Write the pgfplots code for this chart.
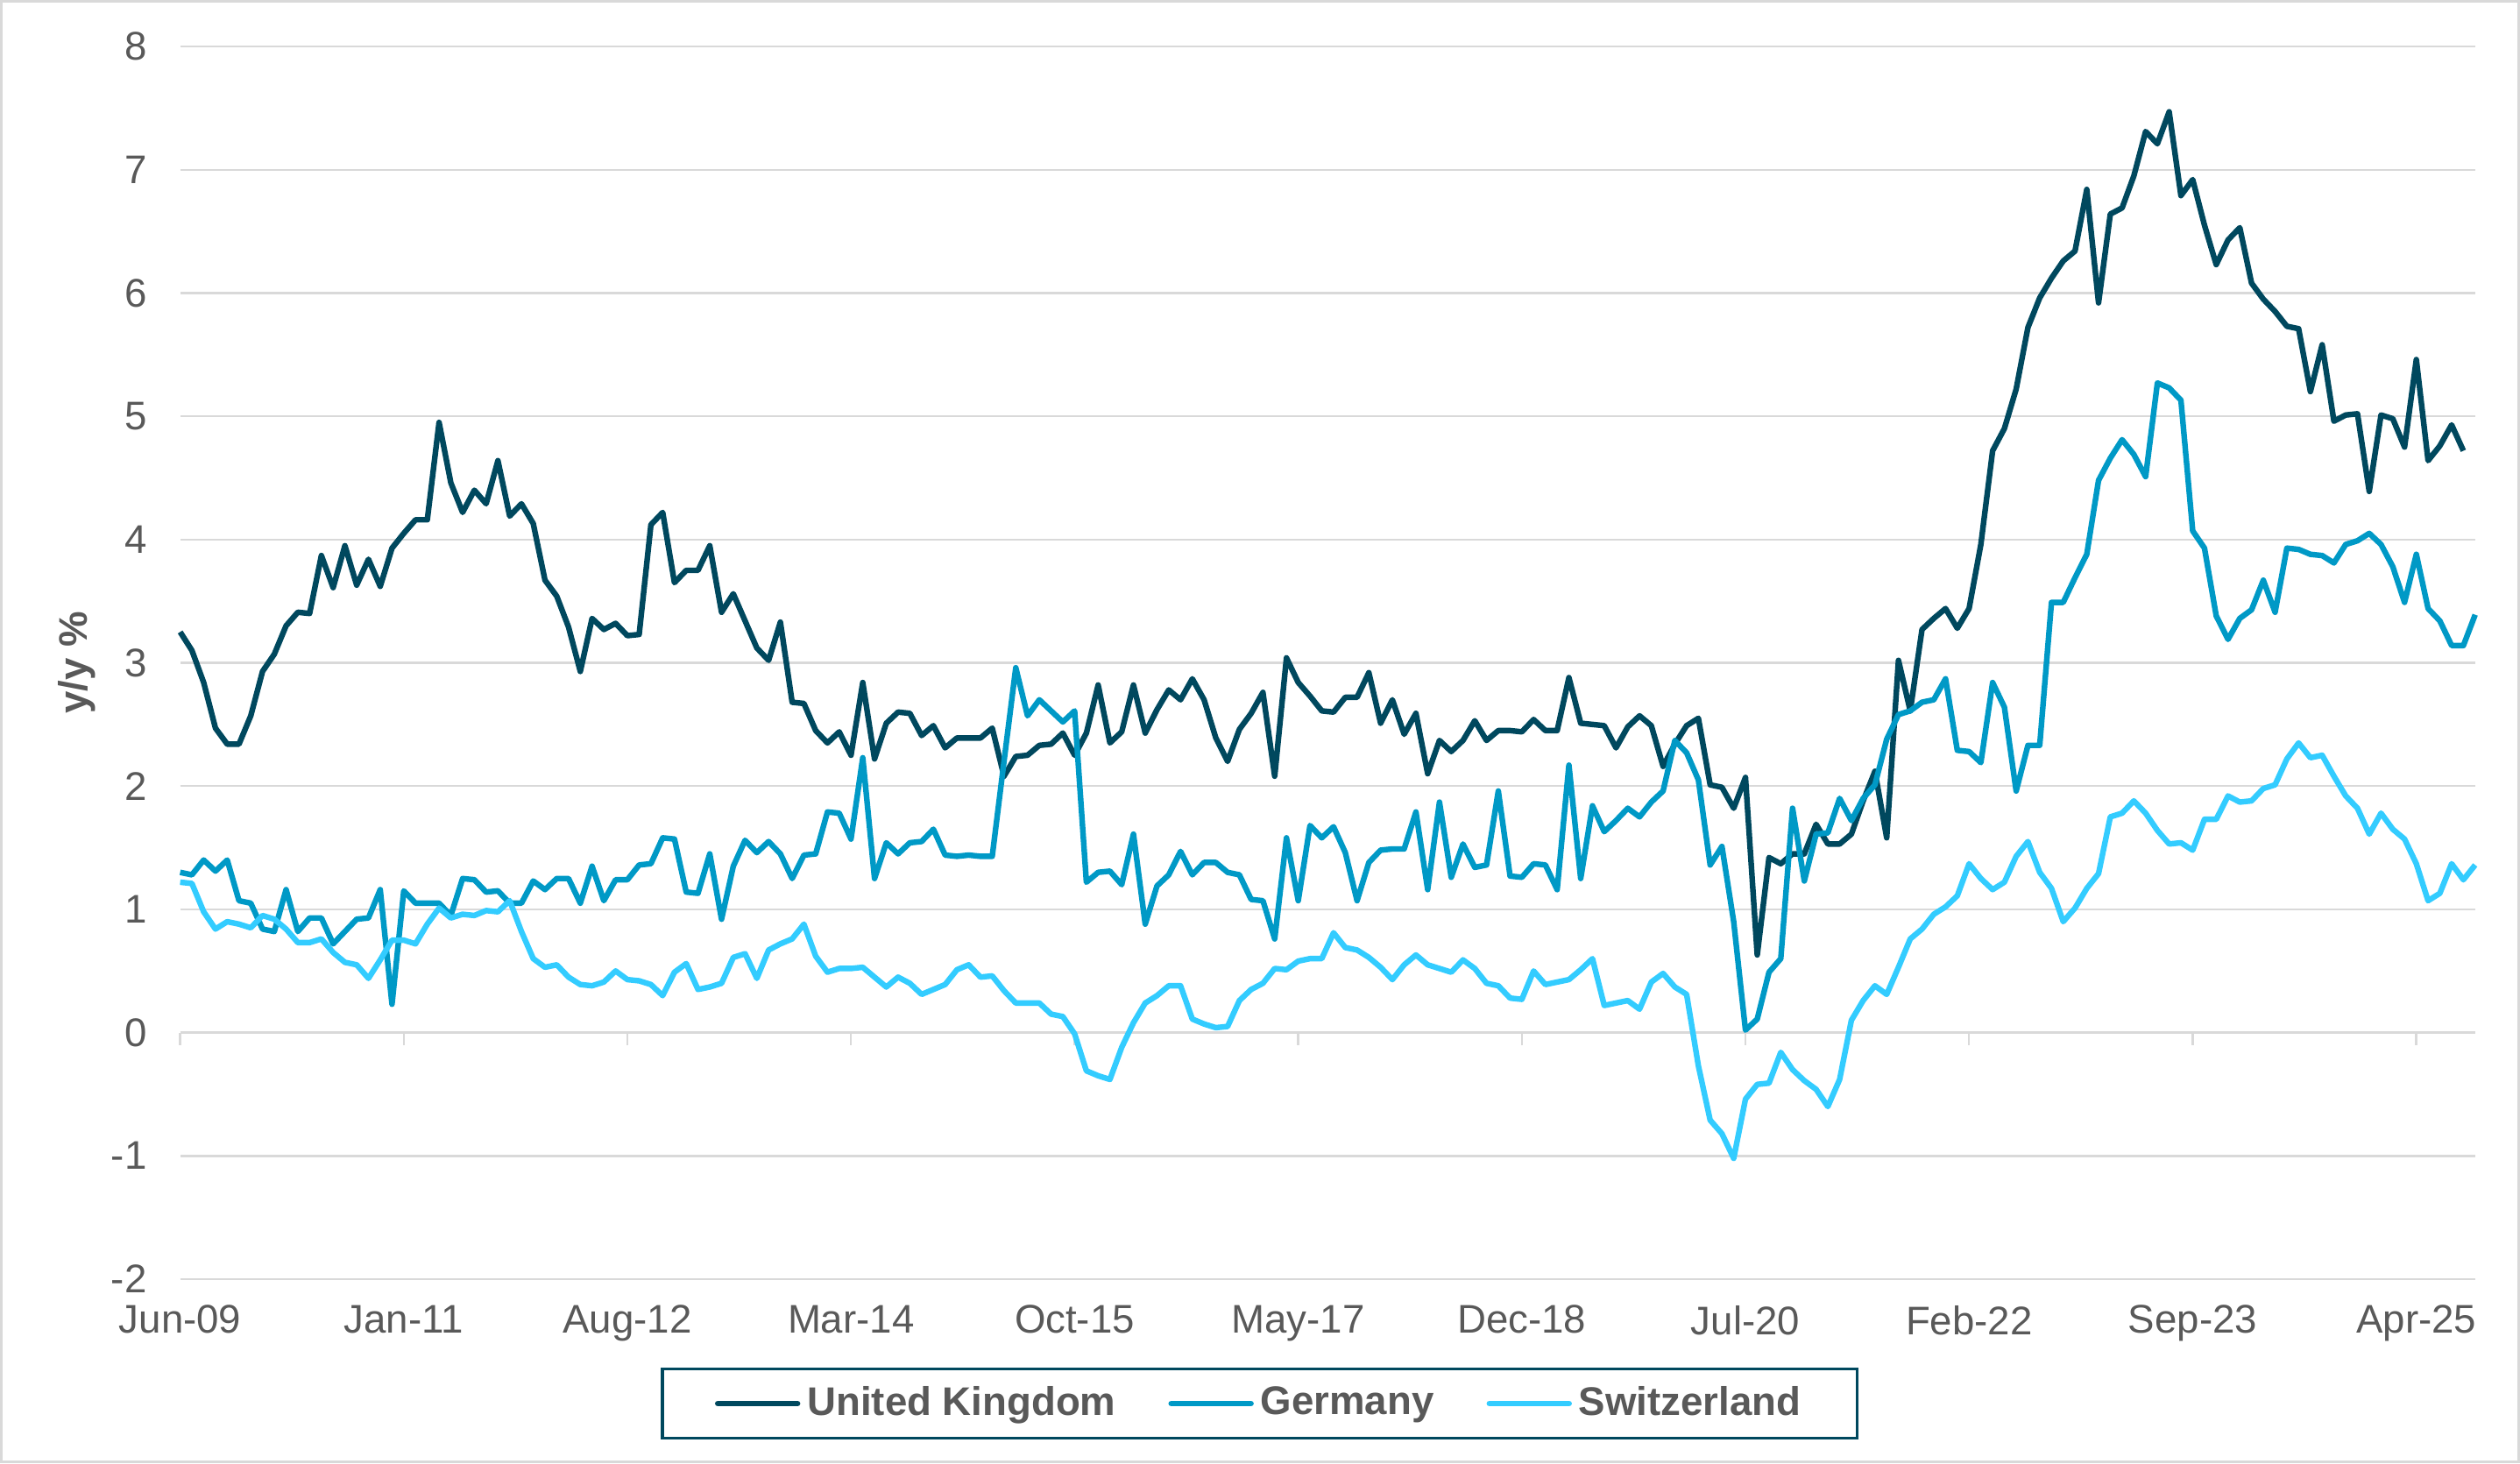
\documentclass[border=0pt]{standalone}
\usepackage{fontspec}
\setmainfont{Liberation Sans}
\usepackage{pgfplots}
\usepackage{pgfplotstable}
\pgfplotsset{compat=1.18}
\definecolor{ukc}{HTML}{00485E}
\definecolor{dec}{HTML}{0099C6}
\definecolor{chc}{HTML}{33CCFF}
\definecolor{gridc}{HTML}{D9D9D9}
\definecolor{txtc}{HTML}{595959}

\pgfplotstableread{
x uk de ch
0 3.25 1.30 1.22
1 3.10 1.28 1.21
2 2.84 1.40 0.98
3 2.47 1.31 0.84
4 2.34 1.40 0.90
5 2.34 1.07 0.88
6 2.57 1.05 0.85
7 2.93 0.84 0.95
8 3.07 0.82 0.92
9 3.30 1.16 0.84
10 3.41 0.82 0.73
11 3.40 0.93 0.73
12 3.87 0.93 0.76
13 3.61 0.72 0.65
14 3.95 0.82 0.57
15 3.63 0.92 0.55
16 3.84 0.93 0.44
17 3.62 1.16 0.59
18 3.93 0.23 0.75
19 4.05 1.15 0.75
20 4.16 1.05 0.72
21 4.16 1.05 0.88
22 4.95 1.05 1.01
23 4.46 0.95 0.93
24 4.22 1.25 0.96
25 4.40 1.24 0.95
26 4.29 1.14 0.99
27 4.64 1.15 0.98
28 4.19 1.05 1.07
29 4.29 1.05 0.82
30 4.13 1.23 0.60
31 3.67 1.16 0.53
32 3.54 1.25 0.55
33 3.29 1.25 0.45
34 2.93 1.05 0.39
35 3.36 1.35 0.38
36 3.27 1.07 0.41
37 3.32 1.24 0.50
38 3.22 1.24 0.43
39 3.23 1.36 0.42
40 4.12 1.37 0.39
41 4.22 1.58 0.30
42 3.65 1.57 0.49
43 3.75 1.14 0.56
44 3.75 1.13 0.35
45 3.95 1.45 0.37
46 3.41 0.92 0.40
47 3.56 1.35 0.61
48 3.34 1.56 0.64
49 3.12 1.46 0.44
50 3.02 1.55 0.67
51 3.33 1.45 0.72
52 2.68 1.25 0.76
53 2.67 1.44 0.88
54 2.45 1.45 0.62
55 2.35 1.79 0.49
56 2.44 1.78 0.52
57 2.25 1.57 0.52
58 2.84 2.23 0.53
59 2.22 1.25 0.45
60 2.51 1.54 0.37
61 2.60 1.45 0.45
62 2.59 1.54 0.40
63 2.41 1.55 0.31
64 2.49 1.65 0.35
65 2.31 1.44 0.39
66 2.39 1.43 0.51
67 2.39 1.44 0.55
68 2.39 1.43 0.45
69 2.47 1.43 0.46
70 2.08 2.20 0.34
71 2.24 2.96 0.24
72 2.25 2.57 0.24
73 2.33 2.70 0.24
74 2.34 2.61 0.15
75 2.43 2.52 0.13
76 2.25 2.61 -0.01
77 2.43 1.22 -0.31
78 2.82 1.30 -0.35
79 2.35 1.31 -0.38
80 2.44 1.20 -0.12
81 2.82 1.61 0.08
82 2.43 0.88 0.24
83 2.62 1.19 0.30
84 2.78 1.28 0.38
85 2.70 1.47 0.38
86 2.87 1.28 0.11
87 2.70 1.38 0.07
88 2.39 1.38 0.04
89 2.20 1.30 0.05
90 2.46 1.28 0.26
91 2.59 1.08 0.35
92 2.76 1.07 0.40
93 2.08 0.76 0.52
94 3.04 1.58 0.51
95 2.84 1.07 0.58
96 2.73 1.68 0.60
97 2.61 1.58 0.60
98 2.60 1.67 0.81
99 2.72 1.46 0.69
100 2.72 1.07 0.67
101 2.92 1.38 0.61
102 2.51 1.48 0.53
103 2.70 1.49 0.43
104 2.42 1.49 0.55
105 2.59 1.79 0.63
106 2.10 1.16 0.55
107 2.37 1.87 0.52
108 2.28 1.26 0.49
109 2.37 1.53 0.59
110 2.53 1.34 0.52
111 2.37 1.36 0.40
112 2.45 1.96 0.38
113 2.45 1.27 0.28
114 2.44 1.26 0.27
115 2.54 1.37 0.50
116 2.45 1.36 0.39
117 2.45 1.16 0.41
118 2.88 2.17 0.43
119 2.51 1.25 0.51
120 2.50 1.84 0.60
121 2.49 1.63 0.22
122 2.31 1.72 0.24
123 2.48 1.82 0.26
124 2.57 1.75 0.19
125 2.49 1.87 0.41
126 2.16 1.96 0.48
127 2.34 2.37 0.37
128 2.49 2.27 0.31
129 2.55 2.05 -0.27
130 2.01 1.36 -0.71
131 1.99 1.51 -0.82
132 1.82 0.90 -1.02
133 2.07 0.02 -0.54
134 0.63 0.11 -0.42
135 1.42 0.49 -0.41
136 1.37 0.60 -0.16
137 1.45 1.82 -0.30
138 1.45 1.23 -0.39
139 1.69 1.61 -0.46
140 1.53 1.62 -0.60
141 1.53 1.90 -0.38
142 1.61 1.72 0.10
143 1.88 1.90 0.26
144 2.12 2.01 0.38
145 1.58 2.38 0.31
146 3.02 2.58 0.53
147 2.61 2.61 0.76
148 3.27 2.68 0.84
149 3.36 2.70 0.96
150 3.44 2.87 1.02
151 3.28 2.29 1.11
152 3.44 2.28 1.37
153 3.96 2.19 1.25
154 4.72 2.84 1.16
155 4.90 2.64 1.22
156 5.22 1.96 1.43
157 5.72 2.33 1.55
158 5.96 2.33 1.30
159 6.12 3.49 1.17
160 6.26 3.49 0.90
161 6.34 3.69 1.01
162 6.84 3.88 1.17
163 5.92 4.48 1.29
164 6.64 4.66 1.75
165 6.69 4.81 1.78
166 6.95 4.69 1.88
167 7.31 4.51 1.78
168 7.21 5.27 1.64
169 7.47 5.23 1.53
170 6.79 5.13 1.54
171 6.92 4.07 1.48
172 6.55 3.93 1.73
173 6.23 3.38 1.73
174 6.43 3.19 1.92
175 6.53 3.36 1.87
176 6.08 3.43 1.88
177 5.95 3.67 1.98
178 5.85 3.41 2.01
179 5.73 3.93 2.22
180 5.71 3.92 2.35
181 5.20 3.88 2.23
182 5.58 3.87 2.25
183 4.96 3.81 2.08
184 5.01 3.96 1.92
185 5.02 3.99 1.82
186 4.39 4.05 1.61
187 5.01 3.96 1.78
188 4.98 3.78 1.65
189 4.75 3.49 1.57
190 5.46 3.88 1.37
191 4.64 3.44 1.07
192 4.76 3.34 1.13
193 4.93 3.14 1.37
194 4.72 3.14 1.24
195 nan 3.39 1.36
}\data

\begin{document}
\begin{tikzpicture}[x=1pt,y=1pt]
\useasboundingbox (0,0) rectangle (719,417.5);
\draw[gridc, line width=0.8pt] (0.4,0.4) rectangle (718.6,417.1);
\begin{axis}[
  at={(51.4pt,52.5pt)}, anchor=south west,
  scale only axis, width=654.8pt, height=351.75pt,
  xmin=0, xmax=195, ymin=-2, ymax=8,
  axis line style={draw=none},
  major tick length=0pt,
  clip=false,
  ytick={-2,-1,0,1,2,3,4,5,6,7,8},
  yticklabels={-2,-1,0,1,2,3,4,5,6,7,8},
  xtick={0,19,38,57,76,95,114,133,152,171,190},
  xticklabels={Jun-09,Jan-11,Aug-12,Mar-14,Oct-15,May-17,Dec-18,Jul-20,Feb-22,Sep-23,Apr-25},
  tick label style={font=\fontsize{11.4}{13}\selectfont, text=txtc},
  yticklabel style={xshift=-6pt},
  xticklabel style={yshift=-4pt},
  ymajorgrids, grid style={gridc, line width=0.6pt},
  ylabel={y/y \%},
  ylabel style={font=\bfseries\fontsize{11.4}{13}\selectfont, text=txtc, at={(axis description cs:-0.0449,0.5)}, anchor=center},
  legend columns=3,
  legend style={at={(axis description cs:0.4704,-0.1009)}, anchor=center, draw=ukc, line width=0.8pt,
    font=\bfseries\fontsize{11.4}{13}\selectfont, text=txtc, inner xsep=15pt, inner ysep=3pt,
    nodes={inner xsep=1pt},
    /tikz/every odd column/.append style={column sep=1pt},
    /tikz/every even column/.append style={column sep=14pt}},
  legend image code/.code={\draw[#1, line cap=round] (0pt,0pt) -- (22.75pt,0pt);},
  every axis plot/.append style={line width=1.6pt, line join=round, no marks},
]
\pgfplotsinvokeforeach{0,19,38,57,76,95,114,133,152,171,190}{
  \draw[gridc, line width=0.6pt] (axis cs:#1,0) -- ([yshift=-3.5pt]axis cs:#1,0);
}
\addplot[ukc] table[x=x,y=uk]{\data};
\addlegendentry{United Kingdom}
\addplot[dec] table[x=x,y=de]{\data};
\addlegendentry{Germany}
\addplot[chc] table[x=x,y=ch]{\data};
\addlegendentry{Switzerland}
\end{axis}
\end{tikzpicture}
\end{document}
